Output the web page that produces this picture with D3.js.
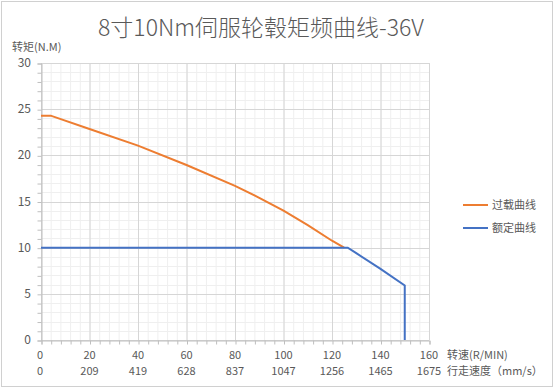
<!DOCTYPE html>
<html>
<head>
<meta charset="utf-8">
<script src="https://cdn.jsdelivr.net/npm/d3@7"></script>
<style>
  body { margin: 0; background: #fff; }
  svg { display: block; font-family: "Noto Sans CJK SC", "Noto Sans", sans-serif; }
</style>
</head>
<body>
<div id="chart"></div>
<script>
// chart data
var titleText = "8寸10Nm伺服轮毂矩频曲线-36V";
var overloadRpm    = [0, 4, 20, 40, 60, 80, 90, 100, 110, 120, 125];
var overloadTorque = [24.3, 24.3, 22.85, 21.05, 18.95, 16.7, 15.4, 14.0, 12.45, 10.75, 10.0];
var ratedRpm    = [0, 126.5, 130, 140, 150, 150];
var ratedTorque = [10, 10, 9.4, 7.7, 5.9, 0];
var xTicks = [0, 20, 40, 60, 80, 100, 120, 140, 160];
var speedLabels = ["0", "209", "419", "628", "837", "1047", "1256", "1465", "1675"];
var yTicks = [0, 5, 10, 15, 20, 25, 30];
var seriesNames = ["过载曲线", "额定曲线"];
var seriesColors = ["#ED7D31", "#4472C4"];

var width = 554, height = 388;
var plot = {left: 41, right: 429, top: 63, bottom: 340};

var svg = d3.select("#chart").append("svg")
  .attr("width", width)
  .attr("height", height);

// outer frame
svg.append("rect")
  .attr("x", 1.5).attr("y", 1.5)
  .attr("width", width - 3).attr("height", height - 3)
  .style("fill", "none").style("stroke", "#d0d0d0");

var x = d3.scaleLinear().domain([0, 160]).range([plot.left, plot.right]);
var y = d3.scaleLinear().domain([0, 30]).range([plot.bottom, plot.top]);

// minor grid
var g = svg.append("g");
g.selectAll(".minor-x").data(d3.range(0, 161, 4)).enter().append("line")
  .attr("x1", function(d) { return x(d) + 0.5; }).attr("x2", function(d) { return x(d) + 0.5; })
  .attr("y1", plot.top).attr("y2", plot.bottom)
  .style("stroke", "#efefef");
g.selectAll(".minor-y").data(d3.range(0, 31, 1)).enter().append("line")
  .attr("y1", function(d) { return Math.round(y(d)) + 0.5; }).attr("y2", function(d) { return Math.round(y(d)) + 0.5; })
  .attr("x1", plot.left).attr("x2", plot.right)
  .style("stroke", "#efefef");
// major grid
g.selectAll(".major-x").data(xTicks).enter().append("line")
  .attr("x1", function(d) { return x(d) + 0.5; }).attr("x2", function(d) { return x(d) + 0.5; })
  .attr("y1", plot.top).attr("y2", plot.bottom)
  .style("stroke", "#d6d6d6");
g.selectAll(".major-y").data(yTicks).enter().append("line")
  .attr("y1", function(d) { return Math.round(y(d)) + 0.5; }).attr("y2", function(d) { return Math.round(y(d)) + 0.5; })
  .attr("x1", plot.left).attr("x2", plot.right)
  .style("stroke", "#d6d6d6");

// axes (minor ticks)
var yAxis = d3.axisLeft(y).tickValues(d3.range(0, 31, 1)).tickSize(4).tickFormat("");
svg.append("g").attr("transform", "translate(" + (plot.left + 0.5) + ",0.5)").call(yAxis)
  .call(function(s) { s.selectAll("line, path").style("stroke", "#bfbfbf"); });
var xAxis = d3.axisBottom(x).tickValues(d3.range(0, 161, 4)).tickSize(4).tickFormat("");
svg.append("g").attr("transform", "translate(0.5," + (plot.bottom + 0.5) + ")").call(xAxis)
  .call(function(s) { s.selectAll("line, path").style("stroke", "#bfbfbf"); });

// tick labels
svg.selectAll(".ylab").data(yTicks).enter().append("text")
  .attr("x", 31).attr("y", function(d) { return y(d) + 4; })
  .attr("text-anchor", "end")
  .style("font-size", "12px").style("fill", "#595959")
  .text(function(d) { return d; });
svg.selectAll(".xlab").data(xTicks).enter().append("text")
  .attr("x", function(d) { return x(d); }).attr("y", 359)
  .attr("text-anchor", function(d, i) { return i == 0 ? "start" : "middle"; })
  .attr("dx", function(d, i) { return i == 0 ? -4 : 0; })
  .style("font-size", "11px").style("fill", "#595959")
  .text(function(d) { return d; });
svg.selectAll(".slab").data(speedLabels).enter().append("text")
  .attr("x", function(d, i) { return x(xTicks[i]); }).attr("y", 375)
  .attr("text-anchor", function(d, i) { return i == 0 ? "start" : "middle"; })
  .attr("dx", function(d, i) { return i == 0 ? -4 : 0; })
  .style("font-size", "11px").style("fill", "#595959")
  .text(function(d) { return d; });

// axis titles
svg.append("text").attr("x", 447).attr("y", 359)
  .style("font-size", "11px").style("fill", "#595959").text("转速(R/MIN)");
svg.append("text").attr("x", 447).attr("y", 375)
  .style("font-size", "11px").style("fill", "#595959").text("行走速度（mm/s）");
svg.append("text").attr("x", 12).attr("y", 51)
  .style("font-size", "11px").style("fill", "#595959").text("转矩(N.M)");

// title
svg.append("text").attr("x", 261).attr("y", 36)
  .attr("text-anchor", "middle")
  .style("font-size", "23px").style("font-weight", 300).style("fill", "#595959")
  .text(titleText);

// lines
var line = d3.line()
  .x(function(d) { return x(d[0]); })
  .y(function(d) { return y(d[1]); });
var overload = d3.zip(overloadRpm, overloadTorque);
var rated = d3.zip(ratedRpm, ratedTorque);
svg.append("path").datum(overload).attr("d", line)
  .style("fill", "none").style("stroke", seriesColors[0]).style("stroke-width", 2);
svg.append("path").datum(rated).attr("d", line)
  .style("fill", "none").style("stroke", seriesColors[1]).style("stroke-width", 2);

// legend
var legend = svg.selectAll(".legend").data(seriesNames).enter().append("g")
  .attr("transform", function(d, i) { return "translate(463," + (205 + i * 23) + ")"; });
legend.append("line").attr("x1", 0).attr("x2", 25)
  .style("stroke", function(d, i) { return seriesColors[i]; }).style("stroke-width", 2);
legend.append("text").attr("x", 29).attr("y", 4)
  .style("font-size", "11px").style("fill", "#595959")
  .text(function(d) { return d; });
</script>
</body>
</html>
